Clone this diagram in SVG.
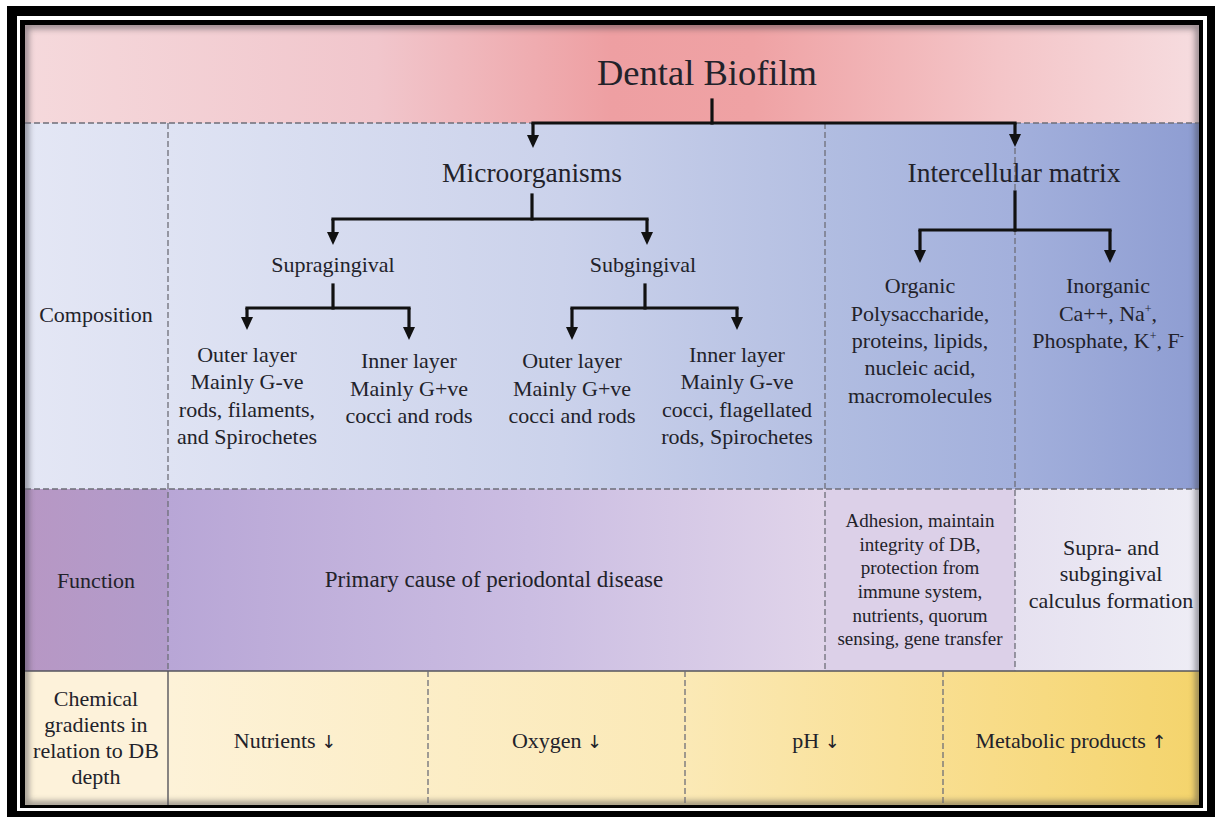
<svg xmlns="http://www.w3.org/2000/svg" width="1217" height="819" viewBox="0 0 1217 819">
  <style>
    text { font-family: 'Liberation Serif', 'Times New Roman', Tinos, 'DejaVu Serif', 'Noto Serif', serif; fill: #22222a; text-anchor: middle; }
    .h1 { font-size: 36.5px; }
    .h2 { font-size: 27.5px; }
    .b { font-size: 22px; }
    .s { font-size: 19px; }
    .sup { font-size: 12px; }
    .ar { font-family: 'DejaVu Sans', 'Liberation Sans', sans-serif; font-size: 18px; fill: #22222a; }
    .dash { stroke: #6e6e78; stroke-width: 1.3; stroke-dasharray: 6 3; fill: none; }
    .solid { stroke: #55555c; stroke-width: 1.4; fill: none; }
    .conn { stroke: #111; stroke-width: 3.2; fill: none; stroke-linecap: square; }
    .arr { stroke: #111; stroke-width: 3.2; fill: none; marker-end: url(#head); }
  </style>
  <defs>
    <marker id="head" markerUnits="userSpaceOnUse" markerWidth="14" markerHeight="12" refX="0" refY="6" orient="auto" overflow="visible">
      <path d="M0,0 L13,6 L0,12 Z" fill="#111"/>
    </marker>
    <linearGradient id="gHeader" gradientUnits="userSpaceOnUse" x1="25" y1="0" x2="1199" y2="0">
      <stop offset="0" stop-color="#f5d9dc"/>
      <stop offset="0.3" stop-color="#f1c6cc"/>
      <stop offset="0.5" stop-color="#ee9fa2"/>
      <stop offset="0.62" stop-color="#efa2a4"/>
      <stop offset="0.83" stop-color="#f4c5c8"/>
      <stop offset="1" stop-color="#f6dcdf"/>
    </linearGradient>
    <linearGradient id="gCompLabel" gradientUnits="userSpaceOnUse" x1="25" y1="0" x2="168" y2="0">
      <stop offset="0" stop-color="#e4e7f5"/>
      <stop offset="1" stop-color="#dde1f2"/>
    </linearGradient>
    <linearGradient id="gCompMain" gradientUnits="userSpaceOnUse" x1="168" y1="0" x2="825" y2="0">
      <stop offset="0" stop-color="#dfe3f3"/>
      <stop offset="0.6" stop-color="#cbd2eb"/>
      <stop offset="1" stop-color="#b4bfe2"/>
    </linearGradient>
    <linearGradient id="gCompMatrix" gradientUnits="userSpaceOnUse" x1="825" y1="0" x2="1199" y2="0">
      <stop offset="0" stop-color="#b1bde1"/>
      <stop offset="0.5" stop-color="#a3b0dc"/>
      <stop offset="1" stop-color="#8e9dd2"/>
    </linearGradient>
    <linearGradient id="gFuncLabel" gradientUnits="userSpaceOnUse" x1="25" y1="0" x2="168" y2="0">
      <stop offset="0" stop-color="#b797c4"/>
      <stop offset="1" stop-color="#b29ccb"/>
    </linearGradient>
    <linearGradient id="gFuncMain" gradientUnits="userSpaceOnUse" x1="168" y1="0" x2="825" y2="0">
      <stop offset="0" stop-color="#b8a6d6"/>
      <stop offset="0.55" stop-color="#cbbde2"/>
      <stop offset="1" stop-color="#e0d4ea"/>
    </linearGradient>
    <linearGradient id="gFuncRight" gradientUnits="userSpaceOnUse" x1="1015" y1="0" x2="1199" y2="0">
      <stop offset="0" stop-color="#e6e1f0"/>
      <stop offset="1" stop-color="#eeedf5"/>
    </linearGradient>
    <linearGradient id="gChemMain" gradientUnits="userSpaceOnUse" x1="168" y1="0" x2="1199" y2="0">
      <stop offset="0" stop-color="#fdf2d8"/>
      <stop offset="0.5" stop-color="#fbe9b6"/>
      <stop offset="0.8" stop-color="#f8dc88"/>
      <stop offset="1" stop-color="#f4d46c"/>
    </linearGradient>
    <clipPath id="clipPanel">
      <rect x="25" y="25" width="1174" height="780"/>
    </clipPath>
    <filter id="soft" x="-5%" y="-5%" width="110%" height="110%">
      <feGaussianBlur stdDeviation="3"/>
    </filter>
  </defs>

  <rect width="1217" height="819" fill="#ffffff"/>

  <!-- double frame -->
  <rect x="7" y="6" width="1208" height="811" fill="#000"/>
  <rect x="17" y="16" width="1190" height="795" fill="#fff"/>
  <rect x="20" y="20" width="1183" height="788" fill="#000"/>

  <!-- row and column backgrounds -->
  <g id="backgrounds">
    <rect x="25" y="25" width="1174" height="98" fill="url(#gHeader)"/>
    <rect x="25" y="123" width="143" height="366" fill="url(#gCompLabel)"/>
    <rect x="168" y="123" width="657" height="366" fill="url(#gCompMain)"/>
    <rect x="825" y="123" width="374" height="366" fill="url(#gCompMatrix)"/>
    <rect x="25" y="489" width="143" height="182" fill="url(#gFuncLabel)"/>
    <rect x="168" y="489" width="657" height="182" fill="url(#gFuncMain)"/>
    <rect x="825" y="489" width="190" height="182" fill="#dcd0e8"/>
    <rect x="1015" y="489" width="184" height="182" fill="url(#gFuncRight)"/>
    <rect x="25" y="671" width="143" height="134" fill="#fdf2da"/>
    <rect x="168" y="671" width="1031" height="134" fill="url(#gChemMain)"/>
    <!-- soft shading along the panel edge -->
    <g clip-path="url(#clipPanel)">
      <rect x="25" y="25" width="1174" height="780" fill="none" stroke="#3a3a40" stroke-width="7" opacity="0.55" filter="url(#soft)"/>
    </g>
  </g>

  <!-- grid lines -->
  <g id="grid">
    <line class="dash" x1="25" y1="123" x2="1199" y2="123"/>
    <line class="dash" x1="25" y1="489" x2="1199" y2="489"/>
    <line class="solid" x1="25" y1="671" x2="1199" y2="671"/>
    <line class="dash" x1="168" y1="123" x2="168" y2="671"/>
    <line class="solid" x1="168" y1="671" x2="168" y2="805"/>
    <line class="dash" x1="825" y1="123" x2="825" y2="671"/>
    <line class="dash" x1="1015" y1="148" x2="1015" y2="671"/>
    <line class="dash" x1="428" y1="671" x2="428" y2="805"/>
    <line class="dash" x1="685" y1="671" x2="685" y2="805"/>
    <line class="dash" x1="943" y1="671" x2="943" y2="805"/>
  </g>

  <!-- connectors -->
  <g id="connectors">
    <path class="conn" d="M712,100 V123"/>
    <path class="conn" d="M533,123 H1015"/>
    <path class="arr" d="M533,123 V135"/>
    <path class="arr" d="M1015,123 V134"/>

    <path class="conn" d="M532,195 V219"/>
    <path class="conn" d="M333,219 H647"/>
    <path class="arr" d="M333,219 V232"/>
    <path class="arr" d="M647,219 V232"/>

    <path class="conn" d="M333,285 V308"/>
    <path class="conn" d="M247,308 H409"/>
    <path class="arr" d="M247,308 V317"/>
    <path class="arr" d="M409,308 V327"/>

    <path class="conn" d="M645,285 V308"/>
    <path class="conn" d="M572,308 H737"/>
    <path class="arr" d="M572,308 V327"/>
    <path class="arr" d="M737,308 V317"/>

    <path class="conn" d="M1015,192 V230"/>
    <path class="conn" d="M920,230 H1110"/>
    <path class="arr" d="M920,230 V250"/>
    <path class="arr" d="M1110,230 V250"/>
  </g>

  <!-- nodes -->
  <g id="node-dental-biofilm">
    <text class="h1" x="707" y="85">Dental Biofilm</text>
  </g>
  <g id="node-microorganisms">
    <text class="h2" x="532" y="182">Microorganisms</text>
  </g>
  <g id="node-intercellular-matrix">
    <text class="h2" x="1014" y="182">Intercellular matrix</text>
  </g>
  <g id="node-supragingival">
    <text class="b" x="333" y="272">Supragingival</text>
  </g>
  <g id="node-subgingival">
    <text class="b" x="643" y="272">Subgingival</text>
  </g>
  <g id="node-supra-outer">
    <text class="b" x="247" y="362">Outer layer</text>
    <text class="b" x="247" y="389">Mainly G-ve</text>
    <text class="b" x="247" y="417">rods, filaments,</text>
    <text class="b" x="247" y="444">and Spirochetes</text>
  </g>
  <g id="node-supra-inner">
    <text class="b" x="409" y="368">Inner layer</text>
    <text class="b" x="409" y="396">Mainly G+ve</text>
    <text class="b" x="409" y="423">cocci and rods</text>
  </g>
  <g id="node-sub-outer">
    <text class="b" x="572" y="368">Outer layer</text>
    <text class="b" x="572" y="396">Mainly G+ve</text>
    <text class="b" x="572" y="423">cocci and rods</text>
  </g>
  <g id="node-sub-inner">
    <text class="b" x="737" y="362">Inner layer</text>
    <text class="b" x="737" y="389">Mainly G-ve</text>
    <text class="b" x="737" y="417">cocci, flagellated</text>
    <text class="b" x="737" y="444">rods, Spirochetes</text>
  </g>
  <g id="node-organic">
    <text class="b" x="920" y="293">Organic</text>
    <text class="b" x="920" y="321">Polysaccharide,</text>
    <text class="b" x="920" y="348">proteins, lipids,</text>
    <text class="b" x="920" y="375">nucleic acid,</text>
    <text class="b" x="920" y="403">macromolecules</text>
  </g>
  <g id="node-inorganic">
    <text class="b" x="1108" y="293">Inorganic</text>
    <text class="b" x="1108" y="321">Ca++, Na<tspan class="sup" dy="-8">+</tspan><tspan dy="8">,</tspan></text>
    <text class="b" x="1108" y="348">Phosphate, K<tspan class="sup" dy="-8">+</tspan><tspan dy="8">, F</tspan><tspan class="sup" dy="-8">-</tspan></text>
  </g>

  <g id="label-composition">
    <text class="b" x="96" y="322">Composition</text>
  </g>
  <g id="label-function">
    <text class="b" x="96" y="588">Function</text>
  </g>
  <g id="label-chemical">
    <text class="b" x="96" y="706">Chemical</text>
    <text class="b" x="96" y="732">gradients in</text>
    <text class="b" x="96" y="758">relation to DB</text>
    <text class="b" x="96" y="784">depth</text>
  </g>

  <g id="node-function-microorganisms">
    <text class="b" x="494" y="587" style="font-size:23px">Primary cause of periodontal disease</text>
  </g>
  <g id="node-function-organic">
    <text class="s" x="920" y="527">Adhesion, maintain</text>
    <text class="s" x="920" y="551">integrity of DB,</text>
    <text class="s" x="920" y="574">protection from</text>
    <text class="s" x="920" y="598">immune system,</text>
    <text class="s" x="920" y="622">nutrients, quorum</text>
    <text class="s" x="920" y="645">sensing, gene transfer</text>
  </g>
  <g id="node-function-inorganic">
    <text class="b" x="1111" y="555">Supra- and</text>
    <text class="b" x="1111" y="581">subgingival</text>
    <text class="b" x="1111" y="608">calculus formation</text>
  </g>

  <g id="node-nutrients">
    <text class="b" x="285" y="748">Nutrients <tspan class="ar">↓</tspan></text>
  </g>
  <g id="node-oxygen">
    <text class="b" x="557" y="748">Oxygen <tspan class="ar">↓</tspan></text>
  </g>
  <g id="node-ph">
    <text class="b" x="816" y="748">pH <tspan class="ar">↓</tspan></text>
  </g>
  <g id="node-metabolic">
    <text class="b" x="1071" y="748">Metabolic products <tspan class="ar">↑</tspan></text>
  </g>
</svg>
